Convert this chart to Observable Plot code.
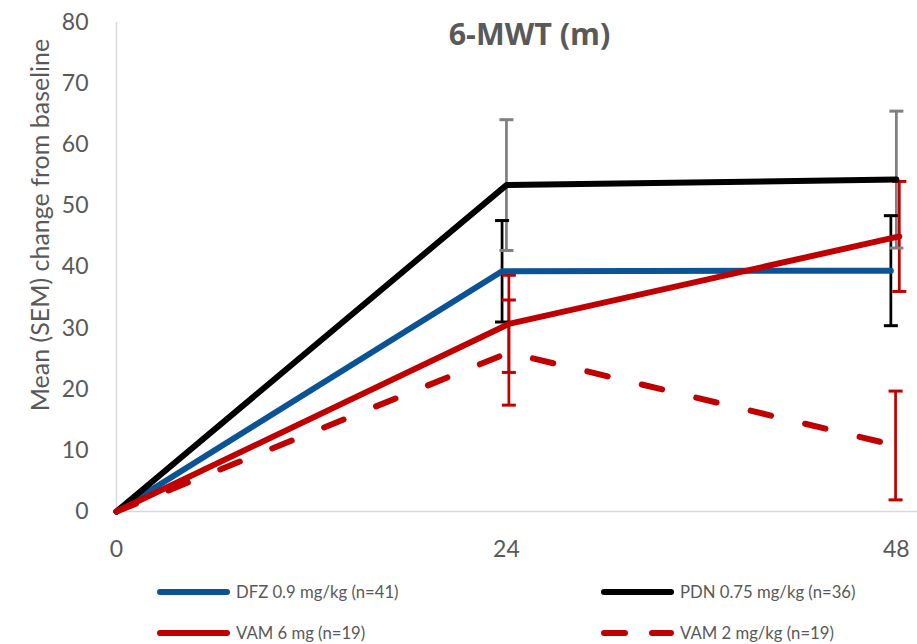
<!DOCTYPE html>
<html>
<head>
<meta charset="utf-8">
<script src="https://cdn.jsdelivr.net/npm/d3@7"></script>
<script src="https://cdn.jsdelivr.net/npm/@observablehq/plot@0.6"></script>
<style>
  html, body { margin: 0; padding: 0; background: #fff; }
  #wrap { position: relative; width: 917px; height: 644px; font-family: Lato, "Open Sans", sans-serif; overflow: hidden; }
  #chart svg { display: block; }
  .leg { position: absolute; display: flex; align-items: center; height: 20px; color: #595959; font-size: 16.7px; white-space: nowrap; }
  .leg svg { display: block; margin-right: 6px; }
  #ylabel { position: absolute; left: 38.5px; top: 225px; transform: translate(-50%, -50%) rotate(-90deg);
            white-space: nowrap; color: #595959; font-size: 25px; line-height: 1; }
</style>
</head>
<body>
<div id="wrap">
  <div id="chart"></div>
  <div id="ylabel"></div>
  <div id="legend"></div>
</div>
<script>
// ---- data ----
const title = "6-MWT (m)";
const yLabel = "Mean (SEM) change from baseline";
const xTicks = [0, 24, 48];
const yTicks = [0, 10, 20, 30, 40, 50, 60, 70, 80];

const seriesNames = ["DFZ 0.9 mg/kg (n=41)", "PDN 0.75 mg/kg (n=36)", "VAM 6 mg (n=19)", "VAM 2 mg/kg (n=19)"];
const seriesColors = ["#0b5394", "#000000", "#c00000", "#c00000"];
const barColors = ["#000000", "#808080", "#c00000", "#c00000"];
const seriesDash = [null, null, null, "21,35"];

const dfzWeeks = [0, 23.73, 47.66];
const dfzMean = [0, 39.3, 39.4];
const dfzSem = [0, 8.3, 9.0];

const pdnWeeks = [0, 24, 48];
const pdnMean = [0, 53.4, 54.3];
const pdnSem = [0, 10.7, 11.2];

const vam6Weeks = [0, 24.15, 48.18];
const vam6Mean = [0, 30.7, 45.0];
const vam6Sem = [0, 7.95, 9.0];

const vam2Weeks = [0, 24.15, 47.95];
const vam2Mean = [0, 26.0, 10.8];
const vam2Sem = [0, 8.6, 8.9];

// ---- build table ----
const weeksBy = [dfzWeeks, pdnWeeks, vam6Weeks, vam2Weeks];
const meanBy = [dfzMean, pdnMean, vam6Mean, vam2Mean];
const semBy = [dfzSem, pdnSem, vam6Sem, vam2Sem];
const rows = [];
seriesNames.forEach((s, i) => {
  weeksBy[i].forEach((w, j) => {
    rows.push({series: s, idx: i, week: w, mean: meanBy[i][j], sem: semBy[i][j],
               lo: meanBy[i][j] - semBy[i][j], hi: meanBy[i][j] + semBy[i][j]});
  });
});
const bars = rows.filter(d => d.sem > 0);
const caps = bars.flatMap(d => [{...d, v: d.lo}, {...d, v: d.hi}]);

const capSymbol = {
  draw(ctx, size) {
    const r = Math.sqrt(size / Math.PI);
    ctx.moveTo(-r, 0);
    ctx.lineTo(r, 0);
  }
};

const axisColor = "#d9d9d9";
const textColor = "#595959";

const lineMarks = seriesNames.map((s, i) => Plot.line(rows.filter(d => d.idx === i), {
  x: "week", y: "mean", stroke: seriesColors[i], strokeWidth: 6,
  strokeLinecap: "round", strokeLinejoin: "round",
  strokeDasharray: seriesDash[i] || undefined
}));

const chart = Plot.plot({
  width: 917,
  height: 570,
  marginLeft: 116,
  marginRight: 0,
  marginTop: 22,
  marginBottom: 59,
  style: {fontFamily: "Lato, 'Open Sans', sans-serif", background: "#fff"},
  x: {domain: [0, 49.3], ticks: xTicks},
  y: {domain: [0, 80], ticks: yTicks},
  marks: [
    Plot.ruleY([0], {stroke: axisColor, strokeWidth: 1.5}),
    Plot.ruleX([0], {stroke: axisColor, strokeWidth: 1.5}),
    Plot.axisX({ticks: xTicks, tickSize: 0, tickPadding: 29, fontSize: 23, color: textColor, label: null}),
    Plot.axisY({ticks: yTicks, tickSize: 0, tickPadding: 28, fontSize: 23, color: textColor, label: null}),
    Plot.ruleX(bars, {x: "week", y1: "lo", y2: "hi", stroke: d => barColors[d.idx], strokeWidth: 2.75}),
    Plot.dot(caps, {x: "week", y: "v", symbol: capSymbol, r: 7, fill: "none", stroke: d => barColors[d.idx], strokeWidth: 3}),
    ...lineMarks,
    Plot.text([title], {frameAnchor: "top", dx: 12.5, dy: 13, lineAnchor: "middle", fontSize: 30.5, fontWeight: "bold", fill: textColor, fontFamily: "'Open Sans', Lato, sans-serif"})
  ]
});
document.getElementById("chart").appendChild(chart);
document.getElementById("ylabel").textContent = yLabel;

// ---- legend ----
const legendPos = [
  {left: 157, top: 592},
  {left: 601, top: 592},
  {left: 157, top: 633},
  {left: 601, top: 633}
];
const legend = document.getElementById("legend");
seriesNames.forEach((s, i) => {
  const item = document.createElement("div");
  item.className = "leg";
  item.style.left = legendPos[i].left + "px";
  item.style.top = (legendPos[i].top - 10) + "px";
  const dash = i === 3 ? ' stroke-dasharray="21,27"' : '';
  item.innerHTML = `<svg width="73" height="12"><line x1="3" y1="6" x2="70" y2="6" stroke="${seriesColors[i]}" stroke-width="6" stroke-linecap="round"${dash}/></svg><span>${s}</span>`;
  legend.appendChild(item);
});
</script>
</body>
</html>
